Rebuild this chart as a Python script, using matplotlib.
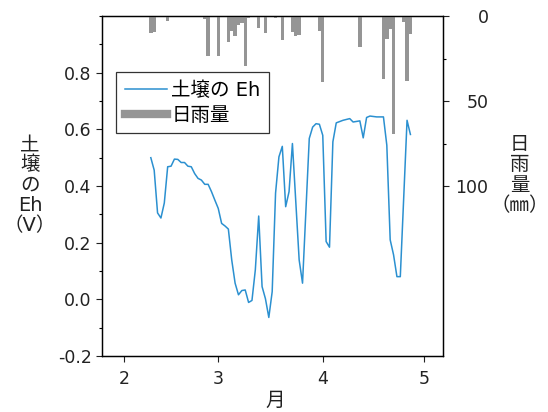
import matplotlib
matplotlib.use("Agg")
import matplotlib.pyplot as plt
from matplotlib.lines import Line2D
from matplotlib.ticker import MultipleLocator

# Latin glyphs from DejaVu (wide, like the reference), kana/kanji fall back to Noto CJK
plt.rcParams["font.family"] = ["DejaVu Sans", "Noto Sans CJK JP"]

# days counted from Jan 1 (Feb 1 = 31)
eh_day = [39, 40, 41, 42, 43, 44, 45, 46, 47, 48, 49, 50, 51, 52, 53, 54, 55, 56,
          57, 58, 59, 60, 61, 62, 63, 64, 65, 66, 67, 68, 69, 70, 71, 72, 73, 74,
          75, 76, 77, 78, 79, 80, 81, 83, 84, 86, 87, 88, 89, 90, 91, 92, 93, 94,
          96, 98, 99, 101, 102, 103, 104, 106, 108, 109, 110, 111, 112, 113, 115, 116]
eh_v = [0.50, 0.456, 0.305, 0.287, 0.340, 0.468, 0.470, 0.495, 0.494, 0.483,
        0.483, 0.470, 0.468, 0.444, 0.427, 0.421, 0.406, 0.406, 0.380, 0.350,
        0.321, 0.268, 0.259, 0.248, 0.139, 0.057, 0.016, 0.031, 0.033, -0.011,
        -0.004, 0.104, 0.294, 0.045, 0.002, -0.064, 0.027, 0.375, 0.503, 0.540,
        0.327, 0.380, 0.550, 0.139, 0.057, 0.568, 0.608, 0.620, 0.618, 0.579,
        0.204, 0.184, 0.556, 0.623, 0.632, 0.638, 0.626, 0.630, 0.570, 0.642,
        0.647, 0.644, 0.644, 0.544, 0.210, 0.157, 0.080, 0.080, 0.632, 0.582]

rain_day = [39, 40, 44, 55, 56, 59, 62, 63, 64, 65, 66, 67, 68, 71, 73, 76, 78,
            81, 82, 83, 89, 90, 101, 108, 109, 110, 111, 114, 115, 116]
rain_mm = [10, 9.5, 3, 1.5, 23.5, 23.5, 15.5, 9, 11.5, 5, 4, 29.5, 1, 7, 10, 1,
           14, 9.5, 11.5, 11, 8.5, 39, 18, 37, 13.5, 7.5, 69.5, 3.5, 38.5, 10.5]

month_pos = [31, 59, 90, 120]
month_lab = ["2", "3", "4", "5"]
eh_ticks = [-0.2, 0.0, 0.2, 0.4, 0.6, 0.8]
eh_tick_lab = ["-0.2", "0.0", "0.2", "0.4", "0.6", "0.8"]
rain_ticks = [0, 50, 100]

BLUE = "#2b90d0"
GRAY = "#959595"
INK = "#222222"

fig = plt.figure(figsize=(5.48, 4.12), dpi=100)
ax = fig.add_axes([0.186, 0.136, 0.622, 0.825])
ax2 = ax.twinx()

ax.plot(eh_day, eh_v, color=BLUE, lw=1.1)
ax2.bar(rain_day, rain_mm, width=1.0, color=GRAY, edgecolor="none")

ax.set_xlim(24.5, 125.6)
ax.set_ylim(-0.2, 1.0)
ax.set_yticks(eh_ticks)
ax.set_yticklabels(eh_tick_lab)
ax.yaxis.set_minor_locator(MultipleLocator(0.1))
ax.set_xticks(month_pos)
ax.set_xticklabels(month_lab)

ax2.set_ylim(200, 0)
ax2.set_yticks(rain_ticks)
ax2.set_yticks([25, 75], minor=True)

for a in (ax, ax2):
    a.tick_params(which="major", direction="out", length=4, width=0.8, labelsize=12.5,
                  colors=INK)
    a.tick_params(which="minor", direction="out", length=2, width=0.8)
    for s in a.spines.values():
        s.set_linewidth(0.9)
ax.tick_params(axis="x", pad=6)
# right-hand labels are right aligned in the reference
ax2.tick_params(axis="y", pad=29)
for t in ax2.get_yticklabels():
    t.set_horizontalalignment("right")

handles = [Line2D([], [], color=BLUE, lw=1.1),
           Line2D([], [], color=GRAY, lw=6)]
leg = ax2.legend(handles, ["土壌の Eh", "日雨量"], loc="upper left",
                 bbox_to_anchor=(0.041, 0.835), borderaxespad=0, fontsize=14,
                 frameon=True, fancybox=False, edgecolor="black", handlelength=2.2,
                 handletextpad=0.2, borderpad=0.45, labelspacing=0.3)
leg.get_frame().set_linewidth(0.9)

fig.text(0.055, 0.551, "土\n壌\nの\nEh\n（V）", ha="center", va="center",
         fontsize=14, linespacing=1.08, color=INK)
fig.text(0.948, 0.575, "日\n雨\n量\n（㎜）", ha="center", va="center",
         fontsize=14, linespacing=1.1, color=INK)
fig.text(0.502, 0.027, "月", ha="center", va="center", fontsize=14, color=INK)

fig.savefig("out.png", dpi=100)
